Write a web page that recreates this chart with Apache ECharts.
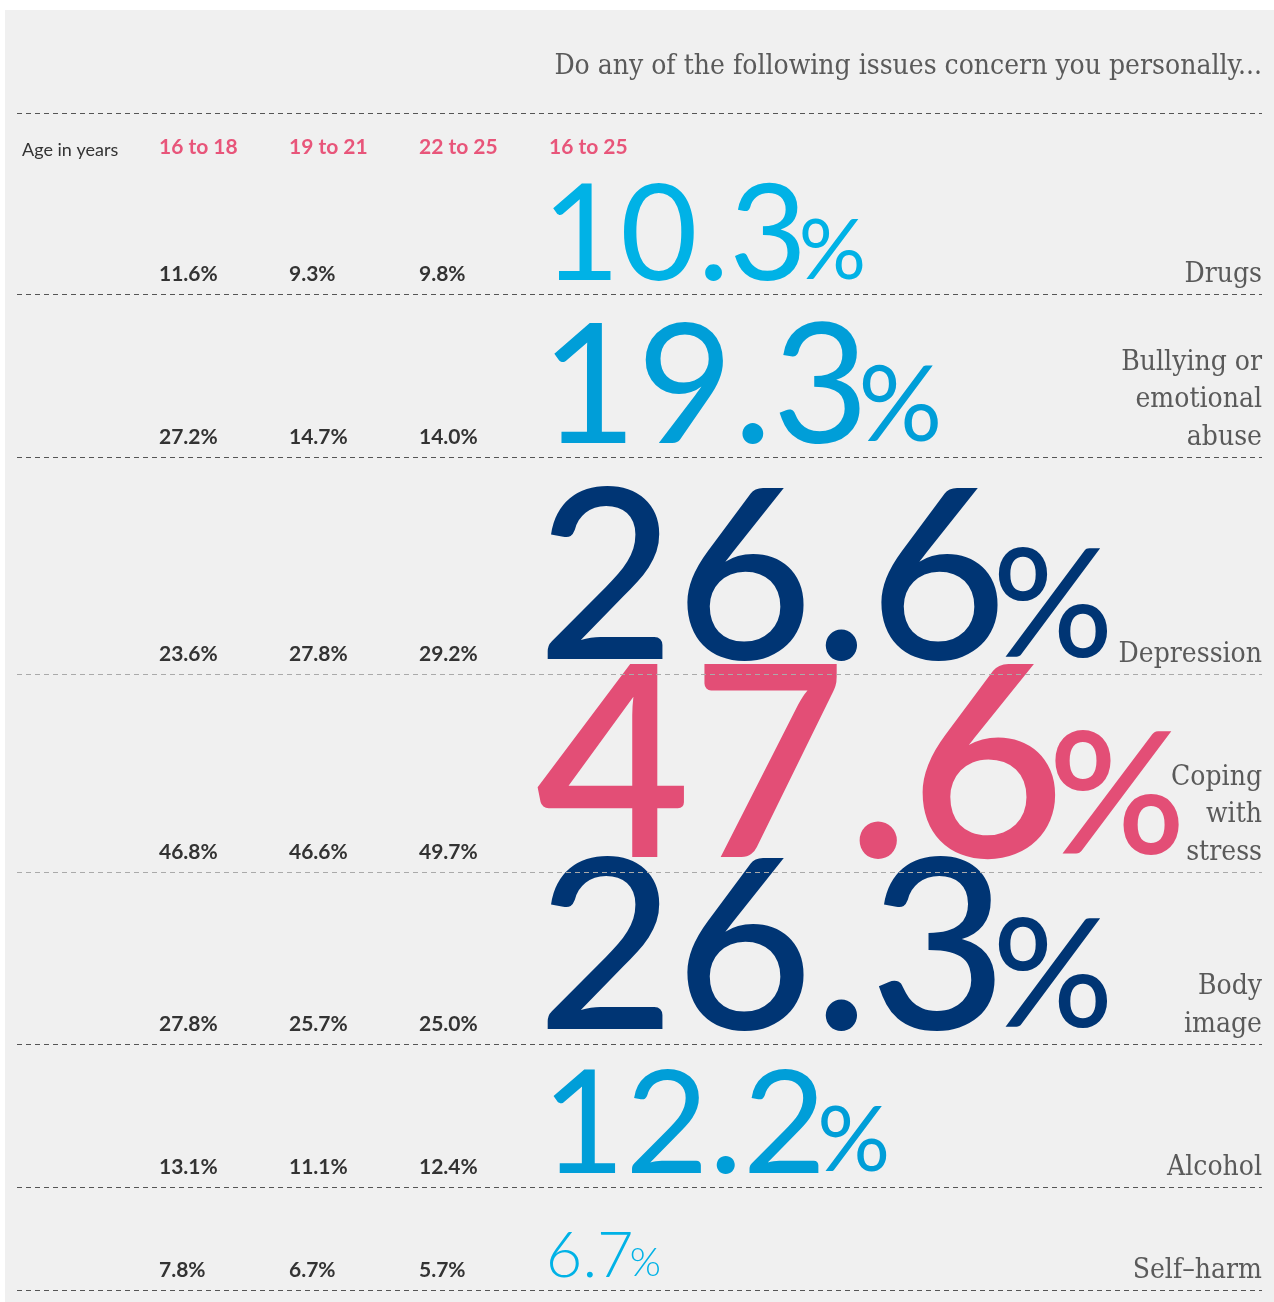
<!DOCTYPE html>
<html>
<head>
<meta charset="utf-8">
<script src="https://cdn.jsdelivr.net/npm/echarts@6/dist/echarts.min.js"></script>
<style>
    html, body { margin: 0; padding: 0; background: #fff; }
    #myChart { width: 1274px; height: 1302px; }
</style>
</head>
<body>
<div id="myChart"></div>
<script>
var ageGroups = ['16 to 18', '19 to 21', '22 to 25', '16 to 25'];
var issues = ['Drugs', 'Bullying or\nemotional\nabuse', 'Depression', 'Coping\nwith\nstress', 'Body\nimage', 'Alcohol', 'Self–harm'];
var age16to18 = [11.6, 27.2, 23.6, 46.8, 27.8, 13.1, 7.8];
var age19to21 = [9.3, 14.7, 27.8, 46.6, 25.7, 11.1, 6.7];
var age22to25 = [9.8, 14.0, 29.2, 49.7, 25.0, 12.4, 5.7];
var age16to25 = [10.3, 19.3, 26.6, 47.6, 26.3, 12.2, 6.7];

// layout: dashed rules (pixel rows) and styling of the big figures
var ruleY = [113, 294, 457, 674, 872, 1044, 1187, 1290];
var ruleColor = ['#555', '#555', '#555', '#aaa', '#aaa', '#555', '#555', '#555'];
var bigSize = [134, 166, 238, 268, 238, 144, 63];
var bigWeight = [400, 400, 500, 600, 500, 400, 300];
var bigColor = ['#00b2e6', '#009ed8', '#003574', '#e34e76', '#003574', '#009ed8', '#00b2e6'];

var M_LATO = 0.33;    // label middle -> baseline, in em (measured)
var SERIF = 'DejaVu Serif Condensed, DejaVu Serif';

function yAxisFor(i) {
    return { gridIndex: i, type: 'value', min: 10, max: 1302, inverse: true, show: false };
}

function smallSeries() {
    var cols = [age16to18, age19to21, age22to25];
    var data = [];
    for (var c = 0; c < cols.length; c++) {
        for (var r = 0; r < cols[c].length; r++) {
            data.push([c, ruleY[r + 1] - 13, cols[c][r]]);
        }
    }
    return {
        type: 'scatter', xAxisIndex: 2, yAxisIndex: 2, symbolSize: 0, silent: true,
        itemStyle: { opacity: 1 },
        data: data,
        label: {
            show: true, position: [0, 0], align: 'left', verticalAlign: 'middle',
            offset: [0, -M_LATO * 21],
            fontFamily: 'Lato', fontWeight: 700, fontSize: 21, lineHeight: 21, color: '#333',
            formatter: function (p) { return p.value[2].toFixed(1) + '%'; }
        }
    };
}

function bigSeries(r) {
    var F = bigSize[r];
    var f = Math.round(F * 0.63);
    return {
        type: 'scatter', xAxisIndex: 2, yAxisIndex: 2, symbolSize: 0, silent: true,
        itemStyle: { opacity: 1 },
        data: [[3, ruleY[r + 1] - 13, age16to25[r]]],
        label: {
            show: true, position: [0, 0], align: 'left', verticalAlign: 'middle',
            offset: [-0.05 * F, -M_LATO * F],
            formatter: function (p) { return '{n|' + p.value[2].toFixed(1) + '}{p|%}'; },
            rich: {
                n: { fontFamily: 'Lato', fontWeight: bigWeight[r], fontSize: F, lineHeight: F,
                     color: bigColor[r], verticalAlign: 'bottom' },
                p: { fontFamily: 'Lato', fontWeight: bigWeight[r], fontSize: f, lineHeight: f,
                     color: bigColor[r], verticalAlign: 'bottom',
                     padding: [0, 0, (0.5 - M_LATO) * (F - f) + 0.02 * f, -0.1 * f] }
            }
        }
    };
}

var issueData = [];
for (var i = 0; i < issues.length; i++) {
    issueData.push([1, ruleY[i + 1] - 13, issues[i]]);
}

var rules = [];
for (var k = 0; k < ruleY.length; k++) {
    rules.push({ yAxis: ruleY[k], lineStyle: { color: ruleColor[k] } });
}

// big figures: largest drawn first so the navy ones sit on top of the pink one
var order = age16to25.map(function (v, idx) { return idx; });
order.sort(function (a, b) { return age16to25[b] - age16to25[a]; });

var series = [
    {
        type: 'scatter', xAxisIndex: 1, yAxisIndex: 1, symbolSize: 0, silent: true,
        itemStyle: { opacity: 1 },
        data: issueData,
        label: {
            show: true, position: [0, 0], align: 'right', verticalAlign: 'bottom',
            offset: [0, 12.4],
            fontFamily: SERIF, fontSize: 28, lineHeight: 37.5, color: '#5a5a5a',
            formatter: function (p) { return p.value[2]; }
        },
        markLine: {
            silent: true, symbol: 'none', label: { show: false },
            lineStyle: { type: [5, 4], width: 1 },
            data: rules
        }
    },
    smallSeries()
];
for (var j = 0; j < order.length; j++) {
    series.push(bigSeries(order[j]));
}

var myChart = echarts.init(document.getElementById('myChart'));
var option = {
    backgroundColor: '#fff',
    animation: false,
    title: [
        {
            text: 'Do any of the following issues concern you personally...',
            right: 12, top: 53, padding: 0,
            textStyle: { fontFamily: SERIF, fontWeight: 'normal', fontSize: 28, color: '#5a5a5a' }
        },
        {
            text: 'Age in years',
            left: 22, top: 141, padding: 0,
            textStyle: { fontFamily: 'Lato', fontWeight: 'normal', fontSize: 18, color: '#333' }
        }
    ],
    grid: [
        { left: 5, top: 10, right: 0, bottom: 0, show: true, backgroundColor: '#f0f0f0', borderWidth: 0 },
        { left: 17, top: 10, right: 12, bottom: 0 },
        { left: 159, top: 10, width: 390, bottom: 0 }
    ],
    xAxis: [
        { gridIndex: 0, type: 'value', min: 0, max: 1, show: false },
        { gridIndex: 1, type: 'value', min: 0, max: 1, show: false },
        {
            gridIndex: 2, type: 'category', data: ageGroups, boundaryGap: false, position: 'top',
            axisLine: { show: false }, axisTick: { show: false }, splitLine: { show: false },
            axisLabel: {
                inside: true, margin: 127, align: 'left', interval: 0,
                fontFamily: 'Lato', fontWeight: 700, fontSize: 21, color: '#e8557a'
            }
        }
    ],
    yAxis: [yAxisFor(0), yAxisFor(1), yAxisFor(2)],
    series: series
};
myChart.setOption(option);
</script>
</body>
</html>
